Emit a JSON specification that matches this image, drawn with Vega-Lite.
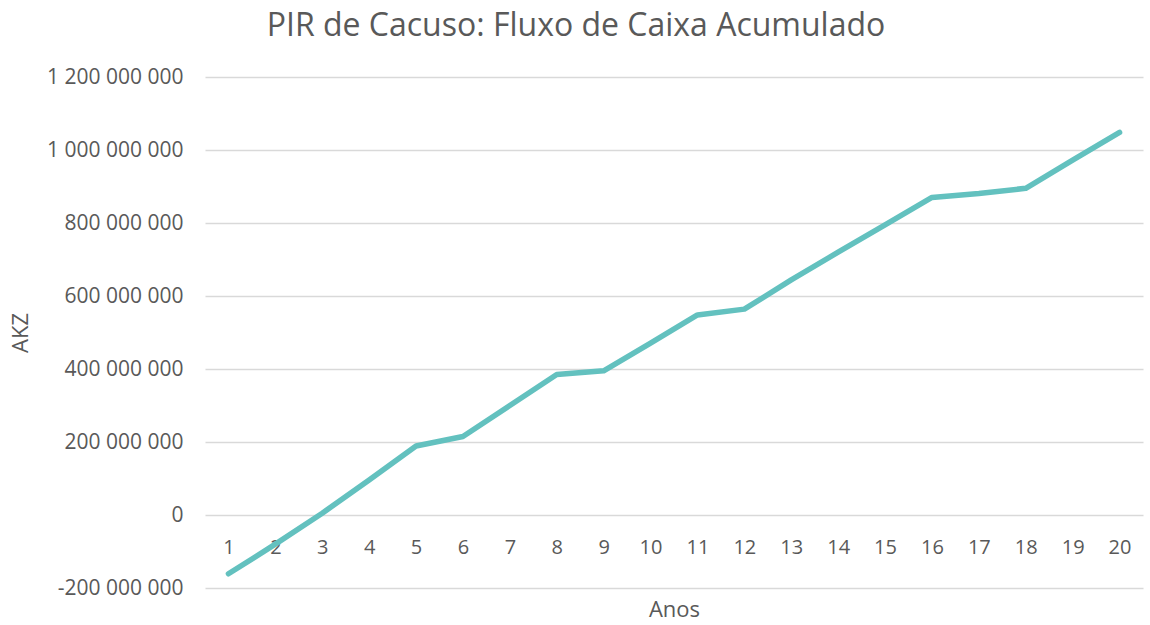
{
  "$schema": "https://vega.github.io/schema/vega-lite/v6.json",
  "width": 938,
  "height": 511,
  "autosize": {"type": "none"},
  "padding": {"left": 205, "top": 77, "right": 7, "bottom": 37},
  "background": "white",
  "title": {
    "text": "PIR de Cacuso: Fluxo de Caixa Acumulado",
    "font": "Open Sans",
    "fontSize": 32,
    "fontWeight": "normal",
    "color": "#595959",
    "anchor": "middle",
    "offset": 23,
    "dx": -98
  },
  "config": {
    "view": {"stroke": null},
    "font": "Open Sans"
  },
  "data": {
    "values": [
      {"Ano": 1, "AKZ": -161000000},
      {"Ano": 2, "AKZ": -80000000},
      {"Ano": 3, "AKZ": 5000000},
      {"Ano": 4, "AKZ": 96000000},
      {"Ano": 5, "AKZ": 189000000},
      {"Ano": 6, "AKZ": 215000000},
      {"Ano": 7, "AKZ": 300000000},
      {"Ano": 8, "AKZ": 385000000},
      {"Ano": 9, "AKZ": 395000000},
      {"Ano": 10, "AKZ": 471000000},
      {"Ano": 11, "AKZ": 548000000},
      {"Ano": 12, "AKZ": 564000000},
      {"Ano": 13, "AKZ": 644000000},
      {"Ano": 14, "AKZ": 720000000},
      {"Ano": 15, "AKZ": 795000000},
      {"Ano": 16, "AKZ": 870000000},
      {"Ano": 17, "AKZ": 881000000},
      {"Ano": 18, "AKZ": 895000000},
      {"Ano": 19, "AKZ": 972000000},
      {"Ano": 20, "AKZ": 1048000000}
    ]
  },
  "mark": {"type": "line", "color": "#63c1bf", "strokeWidth": 5.5, "strokeCap": "round", "strokeJoin": "round"},
  "encoding": {
    "x": {
      "field": "Ano",
      "type": "ordinal",
      "scale": {"type": "point", "padding": 0.5},
      "axis": {
        "title": "Anos",
        "titleFont": "Open Sans",
        "titleFontSize": 22,
        "titleFontWeight": "normal",
        "titleColor": "#595959",
        "titleY": 94,
        "titleBaseline": "middle",
        "labelAngle": 0,
        "labelFont": "Open Sans",
        "labelFontSize": 20,
        "labelColor": "#595959",
        "labelPadding": 32,
        "labelBaseline": "middle",
        "ticks": false,
        "domain": false,
        "grid": false,
        "offset": -73
      }
    },
    "y": {
      "field": "AKZ",
      "type": "quantitative",
      "scale": {"domain": [-200000000, 1200000000], "nice": false, "zero": false},
      "axis": {
        "title": "AKZ",
        "titleFont": "Open Sans",
        "titleFontSize": 22,
        "titleFontWeight": "normal",
        "titleColor": "#595959",
        "titleX": -185,
        "titleBaseline": "middle",
        "values": [-200000000, 0, 200000000, 400000000, 600000000, 800000000, 1000000000, 1200000000],
        "labelExpr": "replace(replace(format(datum.value, ',.0f'), regexp(',', 'g'), ' '), '\u2212', '-')",
        "labelFont": "Open Sans",
        "labelFontSize": 21,
        "labelColor": "#595959",
        "labelPadding": 22,
        "ticks": false,
        "domain": false,
        "grid": true,
        "gridColor": "#d9d9d9",
        "gridWidth": 1.3
      }
    }
  }
}
